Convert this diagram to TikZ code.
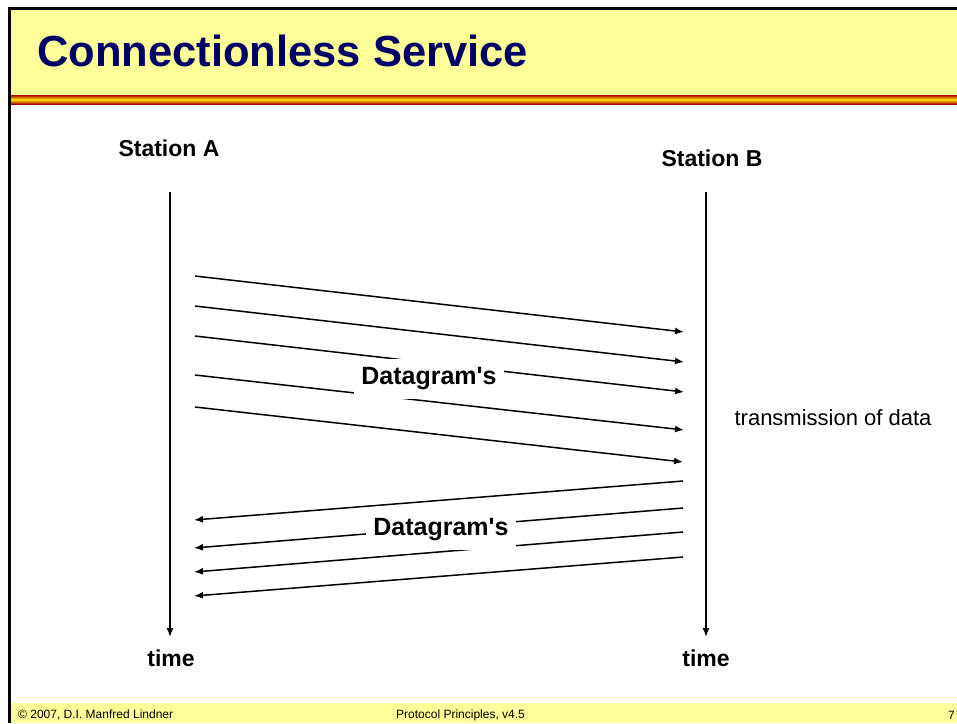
\documentclass[tikz,border=0pt]{standalone}
\usepackage{fontspec}
\setmainfont{Liberation Sans}
\newfontfamily\plainsans{Liberation Sans}
\usetikzlibrary{arrows.meta}
\usetikzlibrary{shapes}

\definecolor{slideyellow}{RGB}{255,255,153}
\definecolor{titleblue}{RGB}{0,0,102}
\tikzset{
  lbl/.style={rectangle,inner sep=0pt,font=\fontsize{23}{27}\selectfont\bfseries},
  dgram/.style={rectangle,fill=white,inner xsep=7pt,inner ysep=8.5pt,font=\plainsans\fontsize{25}{29}\selectfont\bfseries},
  foot/.style={rectangle,inner sep=0pt,anchor=west,font=\fontsize{12}{14}\selectfont},
  msg/.style={line width=1.5pt,-{Latex[length=9pt,width=7pt]}}
}

\begin{document}
\begin{tikzpicture}[x=1pt,y=-1pt]
\useasboundingbox (0,0) rectangle (957,723);
% slide frame
\fill[slideyellow] (9,9) rectangle (957,95);
\shade[top color=red!65!black,bottom color=red!65!black,middle color=yellow!85!orange] (9,95) rectangle (957,104);
\fill[slideyellow] (11,703) rectangle (957,723);
\draw[line width=3pt] (9.5,723) -- (9.5,8) -- (957,8);
\node(T) at (37,66) [rectangle,inner sep=0pt,anchor=base west,text=titleblue,font=\fontsize{43.5}{50}\selectfont\bfseries]{Connectionless Service};
% stations
\node(SA) at (169,148) [lbl]{Station A};
\node(SB) at (712,158) [lbl]{Station B};
\node(TA) at (171,658) [lbl]{time};
\node(TB) at (706,658) [lbl]{time};
\coordinate(A0) at (170,192);
\coordinate(A1) at (170,637);
\coordinate(B0) at (706,192);
\coordinate(B1) at (706,637);
\draw[msg] (A0) -- (A1);
\draw[msg] (B0) -- (B1);
% A to B
\coordinate(a1) at (195,276);
\coordinate(a2) at (195,306);
\coordinate(a3) at (195,336);
\coordinate(a4) at (195,375);
\coordinate(a5) at (195,407);
\coordinate(b1) at (684,332);
\coordinate(b2) at (684,362);
\coordinate(b3) at (684,392);
\coordinate(b4) at (684,430);
\coordinate(b5) at (683,462);
\draw[msg] (a1) -- (b1);
\draw[msg] (a2) -- (b2);
\draw[msg] (a3) -- (b3);
\draw[msg] (a4) -- (b4);
\draw[msg] (a5) -- (b5);
% B to A
\coordinate(c1) at (683,481);
\coordinate(c2) at (683,508);
\coordinate(c3) at (683,532);
\coordinate(c4) at (683,557);
\coordinate(d1) at (194,520);
\coordinate(d2) at (194,548);
\coordinate(d3) at (194,572);
\coordinate(d4) at (194,596);
\draw[msg] (c1) -- (d1);
\draw[msg] (c2) -- (d2);
\draw[msg] (c3) -- (d3);
\draw[msg] (c4) -- (d4);
\node(D1) at (429,379) [dgram]{Datagram's};
\node(D2) at (441,530) [dgram]{Datagram's};
\node(X) at (833,418) [rectangle,inner sep=0pt,font=\fontsize{22}{26}\selectfont]{transmission of data};
% footer
\node(F1) at (18,715) [foot]{© 2007, D.I. Manfred Lindner};
\node(F2) at (396,715) [foot]{Protocol Principles, v4.5};
\node(F3) at (948,715) [foot]{7};
\end{tikzpicture}
\end{document}
